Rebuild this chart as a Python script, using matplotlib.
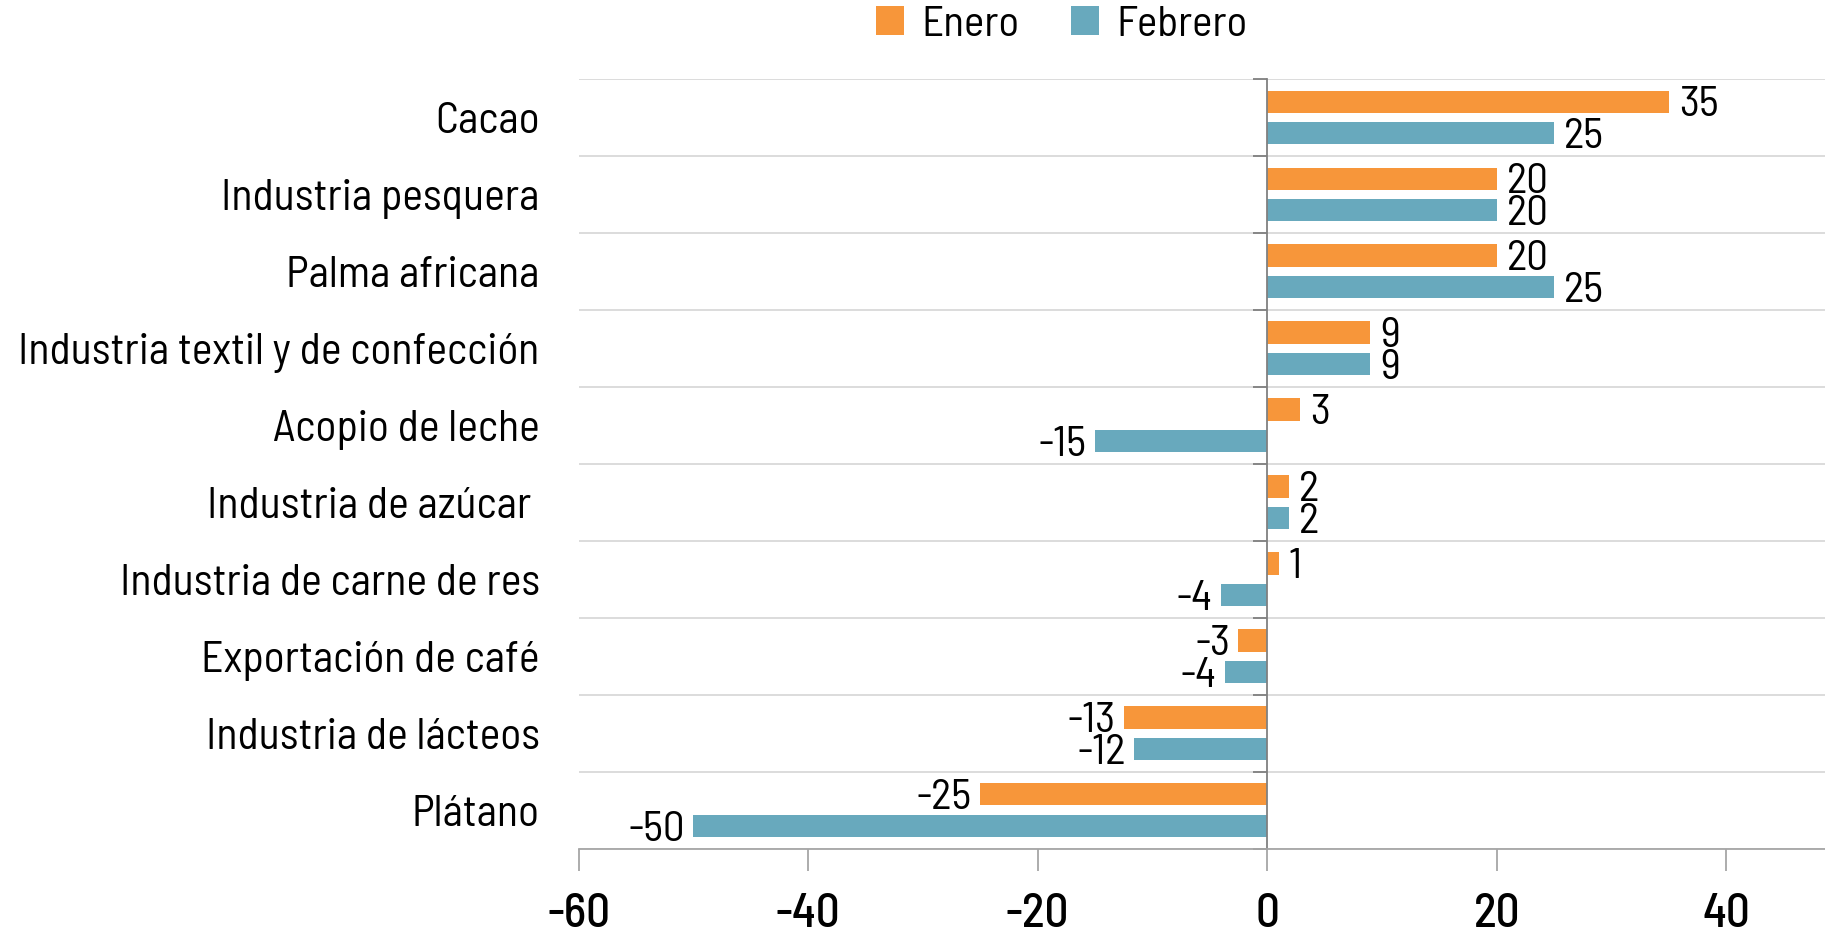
import matplotlib
matplotlib.use('Agg')
import matplotlib.pyplot as plt
import numpy as np
from matplotlib import font_manager

# data
categorias = ['Cacao', 'Industria pesquera', 'Palma africana',
              'Industria textil y de confección', 'Acopio de leche',
              'Industria de azúcar ', 'Industria de carne de res',
              'Exportación de café', 'Industria de lácteos', 'Plátano']
enero = [35, 20, 20, 9, 2.9, 1.9, 1.0, -2.5, -12.5, -25]
febrero = [25, 20, 25, 9, -15, 1.9, -4.06, -3.7, -11.6, -50]
enero_lbl = ['35', '20', '20', '9', '3', '2', '1', '-3', '-13', '-25']
febrero_lbl = ['25', '20', '25', '9', '-15', '2', '-4', '-4', '-12', '-50']
xticks = [-60, -40, -20, 0, 20, 40]

c_ene = '#F7963A'
c_feb = '#68A9BD'

names = {f.name for f in font_manager.fontManager.ttflist}
fam = [f for f in ['Barlow Semi Condensed', 'Roboto Condensed', 'Archivo Narrow',
                   'Asap Condensed'] if f in names][:1] + ['DejaVu Sans']
plt.rcParams['font.family'] = fam

fig = plt.figure(figsize=(18.25, 9.36), dpi=100)
ax = fig.add_axes([0.317, 0.0934, 0.683, 0.8222])

y = np.arange(len(categorias))
h = 0.29
off = 0.205
b1 = ax.barh(y - off, enero, height=h, color=c_ene, label='Enero')
b2 = ax.barh(y + off, febrero, height=h, color=c_feb, label='Febrero')

for bars, lbls in ((b1, enero_lbl), (b2, febrero_lbl)):
    for rect, lb in zip(bars, lbls):
        v = rect.get_width()
        yc = rect.get_y() + rect.get_height() / 2
        ax.annotate(lb, (v, yc), xytext=(7 if v >= 0 else -6, -3),
                    textcoords='offset points', va='center',
                    ha='left' if v >= 0 else 'right', fontsize=31)

ax.set_xlim(-60, 48.6)
ax.set_ylim(len(categorias) - 0.5, -0.5)
ax.set_xticks(xticks)
ax.set_xticklabels([str(t) for t in xticks], fontweight='medium')
ax.set_yticks(y)
ax.set_yticklabels(categorias)
ax.set_yticks(np.arange(len(categorias) + 1) - 0.5, minor=True)

ax.grid(which='minor', axis='y', color='#d9d9d9', linewidth=1.3)
ax.set_axisbelow(True)

for s in ('top', 'left'):
    ax.spines[s].set_visible(False)
ax.spines['right'].set_position(('data', 0))
ax.spines['right'].set_color('#808080')
ax.spines['right'].set_linewidth(1.3)
ax.spines['bottom'].set_color('#a6a6a6')
ax.spines['bottom'].set_linewidth(1.3)

ax.tick_params(axis='y', which='major', left=True, right=False, length=0,
               pad=28, labelsize=31.5)
ax.tick_params(axis='y', which='minor', left=False, right=True, direction='in',
               length=10, color='#808080', width=1.3)
ax.tick_params(axis='x', length=16, color='#a6a6a6', width=1.3, pad=16,
               labelsize=34)

fig.legend(handles=[b1, b2], loc='center', bbox_to_anchor=(0.582, 0.973), ncol=2,
           frameon=False, fontsize=31, handlelength=0.65, handleheight=0.65,
           handletextpad=0.4, columnspacing=1.2)

fig.savefig('out.png', dpi=100)
